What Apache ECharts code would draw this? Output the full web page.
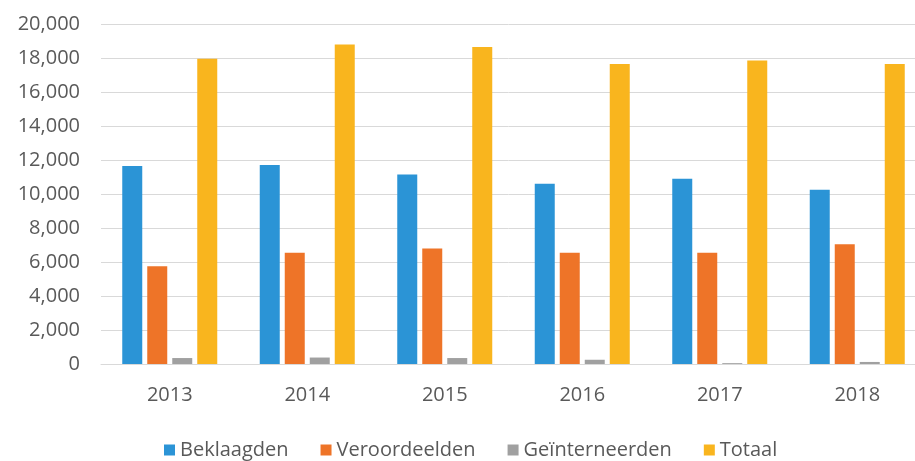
<!DOCTYPE html>
<html>
<head>
<meta charset="utf-8">
<script src="https://cdn.jsdelivr.net/npm/echarts@6/dist/echarts.min.js"></script>
<style>
html,body{margin:0;padding:0;background:#fff;}
#chart{width:915px;height:461px;}
</style>
</head>
<body>
<div id="chart"></div>
<script>
'use strict';

var years = ['2013', '2014', '2015', '2016', '2017', '2018'];
var beklaagden = [11650, 11700, 11150, 10600, 10900, 10250];
var veroordeelden = [5750, 6550, 6800, 6550, 6550, 7050];
var geinterneerden = [350, 380, 350, 250, 50, 120];
var totaal = [17950, 18800, 18650, 17650, 17850, 17650];
var seriesNames = ['Beklaagden', 'Veroordeelden', 'Geïnterneerden', 'Totaal'];

var myChart = echarts.init(document.getElementById('chart'));

function bar(name, data) {
    return {
        name: name,
        type: 'bar',
        data: data,
        barWidth: 20,
        barGap: '25%'
    };
}

var option = {
    animation: false,
    textStyle: {fontFamily: '"Open Sans"'},
    color: ['#2B94D6', '#EE7428', '#A0A0A0', '#F9B51E'],
    grid: {
        left: 101,
        top: 24,
        width: 825,
        height: 340,
        containLabel: false,
        outerBoundsMode: 'none'
    },
    legend: {
        data: seriesNames,
        left: 159,
        top: 435,
        itemWidth: 11,
        itemHeight: 11,
        itemGap: 32,
        icon: 'rect',
        textStyle: {fontSize: 20, color: '#595959', fontFamily: '"Open Sans"'}
    },
    xAxis: {
        type: 'category',
        data: years,
        axisLine: {show: true, lineStyle: {color: '#d9d9d9', width: 1}},
        axisTick: {show: false},
        axisLabel: {fontSize: 20, color: '#595959', margin: 21}
    },
    yAxis: {
        type: 'value',
        min: 0,
        max: 20000,
        interval: 2000,
        axisLine: {show: false},
        axisTick: {show: false},
        splitLine: {lineStyle: {color: '#d9d9d9', width: 1}},
        axisLabel: {
            fontSize: 20,
            color: '#595959',
            margin: 21,
            formatter: function(v) {
                return v.toLocaleString('en-US');
            }
        }
    },
    series: [
        bar(seriesNames[0], beklaagden),
        bar(seriesNames[1], veroordeelden),
        bar(seriesNames[2], geinterneerden),
        bar(seriesNames[3], totaal)
    ]
};

myChart.setOption(option);
</script>
</body>
</html>
